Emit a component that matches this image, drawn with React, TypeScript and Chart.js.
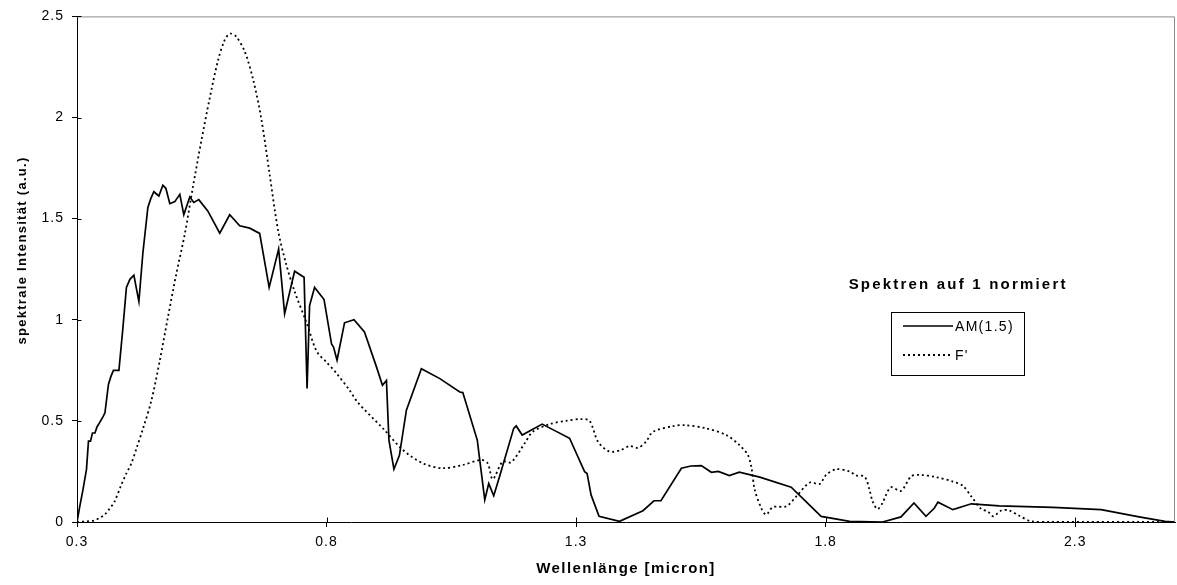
import React, { useEffect, useRef } from "react";
import { Chart, registerables } from "chart.js";

Chart.register(...registerables);

const AM_WL = [
  0.3, 0.305, 0.312, 0.319, 0.323, 0.327, 0.331, 0.336, 0.34, 0.345, 0.352, 0.356, 0.359, 0.363, 0.368, 0.373,
  0.384, 0.392, 0.399, 0.406, 0.414, 0.424, 0.432, 0.442, 0.448, 0.454, 0.464, 0.472, 0.478, 0.486, 0.496,
  0.506, 0.514, 0.526, 0.534, 0.544, 0.562, 0.586, 0.606, 0.626, 0.646, 0.666, 0.685, 0.704, 0.716, 0.736,
  0.755, 0.761, 0.766, 0.776, 0.795, 0.81, 0.814, 0.821, 0.836, 0.855, 0.876, 0.9, 0.912, 0.92, 0.925, 0.935,
  0.946, 0.96, 0.99, 1.027, 1.067, 1.073, 1.102, 1.117, 1.125, 1.135, 1.147, 1.175, 1.18, 1.192, 1.232,
  1.287, 1.317, 1.322, 1.33, 1.346, 1.387, 1.434, 1.456, 1.47, 1.511, 1.53, 1.551, 1.571, 1.585, 1.607,
  1.627, 1.668, 1.731, 1.791, 1.848, 1.914, 1.951, 1.977, 2.001, 2.018, 2.025, 2.055, 2.092, 2.148, 2.255,
  2.352, 2.428, 2.48, 2.5,
];
const AM_VAL = [
  0, 0.07, 0.16, 0.26, 0.4, 0.4, 0.44, 0.44, 0.47, 0.49, 0.52, 0.54, 0.6, 0.68, 0.72, 0.75,
  0.75, 0.96, 1.16, 1.2, 1.22, 1.09, 1.33, 1.555, 1.6, 1.633, 1.612, 1.665, 1.65, 1.574, 1.584,
  1.62, 1.52, 1.607, 1.58, 1.594, 1.538, 1.428, 1.519, 1.465, 1.453, 1.427, 1.16, 1.35, 1.03, 1.24,
  1.21, 0.66, 1.07, 1.16, 1.1, 0.88, 0.865, 0.8, 0.985, 1.0, 0.94, 0.767, 0.676, 0.7, 0.405, 0.261,
  0.33, 0.553, 0.758, 0.709, 0.643, 0.64, 0.405, 0.11, 0.19, 0.13, 0.228, 0.463, 0.475, 0.43, 0.484,
  0.414, 0.249, 0.24, 0.134, 0.028, 0.003, 0.056, 0.105, 0.105, 0.266, 0.277, 0.279, 0.246, 0.25, 0.23,
  0.246, 0.222, 0.172, 0.028, 0.003, 0.0, 0.025, 0.094, 0.028, 0.069, 0.098, 0.061, 0.09, 0.08, 0.072,
  0.061, 0.025, 0.003, 0,
];

const F_WL = [
  0.3, 0.32, 0.335, 0.345, 0.355, 0.365, 0.375, 0.389, 0.399, 0.409, 0.42, 0.432, 0.449, 0.466, 0.482,
  0.499, 0.516, 0.532, 0.549, 0.566, 0.582, 0.596, 0.607, 0.619, 0.636, 0.653, 0.669, 0.686, 0.703, 0.719,
  0.736, 0.76, 0.78, 0.8, 0.82, 0.846, 0.863, 0.913, 0.953, 0.993, 1.033, 1.073, 1.11, 1.123, 1.133, 1.153,
  1.17, 1.197, 1.213, 1.247, 1.28, 1.31, 1.327, 1.344, 1.367, 1.39, 1.407, 1.424, 1.44, 1.454, 1.494, 1.517,
  1.561, 1.601, 1.627, 1.644, 1.651, 1.658, 1.671, 1.681, 1.694, 1.721, 1.741, 1.768, 1.788, 1.801, 1.821,
  1.848, 1.861, 1.878, 1.888, 1.894, 1.904, 1.914, 1.921, 1.931, 1.951, 1.971, 1.987, 2.021, 2.055, 2.075,
  2.092, 2.112, 2.125, 2.136, 2.152, 2.168, 2.188, 2.212, 2.25, 2.5,
];
const F_VAL = [
  0, 0.003, 0.008, 0.02, 0.035, 0.065, 0.1, 0.185, 0.24, 0.29, 0.37, 0.46, 0.6, 0.8, 1.01,
  1.227, 1.424, 1.653, 1.883, 2.097, 2.277, 2.384, 2.415, 2.4, 2.327, 2.187, 1.998, 1.719, 1.44, 1.276,
  1.14, 0.985, 0.845, 0.79, 0.735, 0.652, 0.59, 0.463, 0.356, 0.29, 0.266, 0.282, 0.307, 0.29, 0.212, 0.299,
  0.295, 0.389, 0.446, 0.484, 0.5, 0.509, 0.5, 0.397, 0.348, 0.356, 0.376, 0.367, 0.397, 0.446, 0.474, 0.479,
  0.463, 0.43, 0.381, 0.332, 0.274, 0.159, 0.069, 0.036, 0.074, 0.077, 0.126, 0.195, 0.188, 0.233, 0.261,
  0.25, 0.23, 0.225, 0.159, 0.102, 0.064, 0.094, 0.134, 0.172, 0.154, 0.225, 0.233, 0.222, 0.2, 0.179,
  0.126, 0.064, 0.052, 0.028, 0.057, 0.057, 0.031, 0.003, 0, 0,
];

const X_TICKS = [0.3, 0.8, 1.3, 1.8, 2.3];
const SERIES_LABELS = ["AM(1.5)", "F'"];
const X_TITLE = "Wellenlänge [micron]";
const Y_TITLE = "spektrale Intensität (a.u.)";
const LEGEND_TITLE = "Spektren auf 1 normiert";

const FONT = '"Liberation Sans", Arial, sans-serif';

const decorPlugin = {
  id: "decor",
  beforeDraw(chart: any) {
    chart.ctx.letterSpacing = "1px";
  },
  afterDraw(chart: any) {
    const { ctx, chartArea: a, scales } = chart;
    ctx.save();
    // top & right frame
    ctx.strokeStyle = "#8c8c8c";
    ctx.lineWidth = 1;
    ctx.setLineDash([]);
    ctx.beginPath();
    ctx.moveTo(a.left, a.top + 0.5);
    ctx.lineTo(a.right - 0.5, a.top + 0.5);
    ctx.lineTo(a.right - 0.5, a.bottom);
    ctx.stroke();
    // inner halves of the crossing tick marks
    ctx.strokeStyle = "#000";
    ctx.beginPath();
    scales.x.ticks.forEach((t: any) => {
      const px = Math.round(scales.x.getPixelForValue(t.value)) + 0.5;
      ctx.moveTo(px, a.bottom);
      ctx.lineTo(px, a.bottom - 4.5);
    });
    scales.y.ticks.forEach((t: any) => {
      const py = Math.round(scales.y.getPixelForValue(t.value)) + 0.5;
      ctx.moveTo(a.left, py);
      ctx.lineTo(a.left + 4.5, py);
    });
    ctx.stroke();

    ctx.fillStyle = "#000";
    // x title
    ctx.letterSpacing = "1.4px";
    ctx.font = `bold 15px ${FONT}`;
    ctx.textAlign = "center";
    ctx.textBaseline = "alphabetic";
    ctx.fillText(chart.options.scales.x.title.text, (a.left + a.right) / 2, a.bottom + 51);
    // y title
    ctx.save();
    ctx.letterSpacing = "1.3px";
    ctx.font = `bold 13px ${FONT}`;
    ctx.translate(26, a.top + (a.bottom - a.top) * 0.463);
    ctx.rotate(-Math.PI / 2);
    ctx.textBaseline = "alphabetic";
    ctx.fillText(chart.options.scales.y.title.text, 0, 0);
    ctx.restore();

    // legend title
    const w = a.right - a.left;
    const cx = a.left + w * 0.8025;
    ctx.letterSpacing = "2.2px";
    ctx.font = `bold 15px ${FONT}`;
    ctx.textAlign = "center";
    ctx.fillText(LEGEND_TITLE, cx, 289);

    // legend box
    const bx = 891, by = 312, bw = 133, bh = 63;
    ctx.strokeStyle = "#000";
    ctx.lineWidth = 1;
    ctx.strokeRect(bx + 0.5, by + 0.5, bw, bh);
    const rows = [326, 355];
    ctx.letterSpacing = "1.3px";
    ctx.font = `14px ${FONT}`;
    ctx.textAlign = "left";
    chart.data.datasets.forEach((ds: any, i: number) => {
      const y = rows[i];
      ctx.save();
      ctx.strokeStyle = ds.borderColor;
      ctx.lineWidth = ds.borderWidth;
      ctx.setLineDash(ds.borderDash || []);
      ctx.beginPath();
      ctx.moveTo(bx + 12, y);
      ctx.lineTo(bx + 62, y);
      ctx.stroke();
      ctx.restore();
      ctx.fillText(ds.label, bx + 64, y + 5);
    });
    ctx.restore();
  },
};

export default function App() {
  const ref = useRef<HTMLCanvasElement | null>(null);
  useEffect(() => {
    document.body.style.margin = "0";
    const canvas = ref.current!;
    const chart = new Chart(canvas, {
      type: "line",
      data: {
        datasets: [
          {
            label: SERIES_LABELS[0],
            data: AM_WL.map((x, i) => ({ x, y: AM_VAL[i] })),
            borderColor: "#000",
            borderWidth: 1.7,
            pointRadius: 0,
            tension: 0,
            fill: false,
          },
          {
            label: SERIES_LABELS[1],
            data: F_WL.map((x, i) => ({ x, y: F_VAL[i] })),
            borderColor: "#000",
            borderWidth: 1.8,
            borderDash: [2, 3],
            pointRadius: 0,
            tension: 0.3,
            fill: false,
          },
        ],
      },
      options: {
        responsive: false,
        animation: false,
        layout: { padding: { top: 15, right: 2, left: 0, bottom: 0 } },
        plugins: {
          legend: { display: false },
          tooltip: { enabled: false },
        },
        scales: {
          x: {
            type: "linear",
            min: 0.3,
            max: 2.5,
            afterBuildTicks: (scale: any) => {
              scale.ticks = X_TICKS.map((v) => ({ value: v }));
            },
            afterFit: (scale: any) => {
              scale.height = 63;
            },
            ticks: {
              color: "#000",
              font: { family: FONT, size: 14 },
              padding: 7,
              maxRotation: 0,
              autoSkip: false,
              callback: (v: any) => String(v),
            },
            grid: { display: true, drawOnChartArea: false, drawTicks: true, tickLength: 5, color: "#000" },
            border: { display: true, color: "#000", width: 1 },
            title: { display: false, text: X_TITLE },
          },
          y: {
            type: "linear",
            min: 0,
            max: 2.5,
            afterFit: (scale: any) => {
              scale.width = 77;
            },
            ticks: {
              stepSize: 0.5,
              color: "#000",
              font: { family: FONT, size: 14 },
              padding: 8,
              callback: (v: any) => String(Math.round(Number(v) * 10) / 10),
            },
            grid: { display: true, drawOnChartArea: false, drawTicks: true, tickLength: 5, color: "#000" },
            border: { display: true, color: "#000", width: 1 },
            title: { display: false, text: Y_TITLE },
          },
        },
      },
      plugins: [decorPlugin],
    });
    return () => chart.destroy();
  }, []);
  return (
    <div style={{ width: 1177, height: 585, background: "#fff" }}>
      <canvas ref={ref} width={1177} height={585} style={{ display: "block" }} />
    </div>
  );
}
